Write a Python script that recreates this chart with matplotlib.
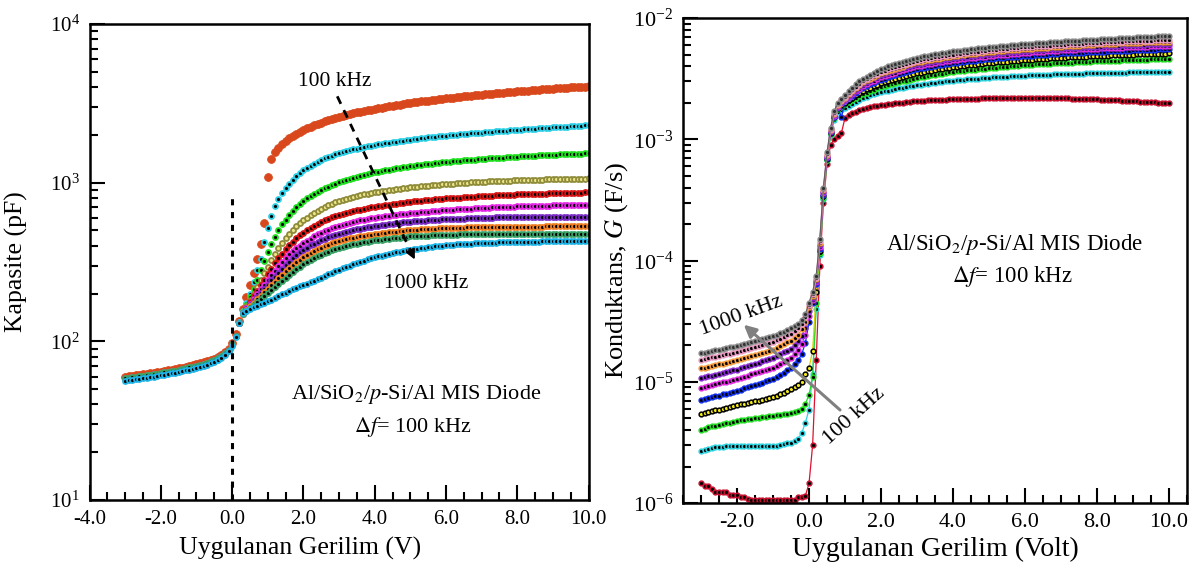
import numpy as np
import matplotlib.pyplot as plt
from matplotlib.ticker import MultipleLocator, LogLocator, LogFormatterMathtext, FuncFormatter, NullFormatter

plt.rcParams['font.family'] = 'serif'
plt.rcParams['font.serif'] = ['Liberation Serif', 'DejaVu Serif']
plt.rcParams['mathtext.fontset'] = 'stix'

# bias sweep of both measurements: -3.0 V ... 10.0 V in 0.1 V steps
voltage = np.round(np.linspace(-3.0, 10.0, 131), 1)

freq_labels = ['100 kHz', '200 kHz', '300 kHz', '400 kHz', '500 kHz',
               '600 kHz', '700 kHz', '800 kHz', '900 kHz', '1000 kHz']

# ---- C-V data (pF) ----
cap_100k = [60.0, 60.4, 60.8, 61.2, 61.6, 62.0, 62.4, 62.9, 63.4, 63.9, 64.4,
            65.0, 65.6, 66.2, 66.8, 67.5, 68.2, 69.0, 69.8, 70.6, 71.5,
            72.5, 73.6, 74.8, 76.2, 77.8, 79.8, 82.3, 85.5, 90.0, 97.0,
            112, 135, 160, 190, 225, 270, 330, 410, 560, 1090,
            1410, 1550, 1660, 1750, 1830, 1900, 1965, 2030, 2090, 2150,
            2200, 2250, 2300, 2345, 2390, 2435, 2480, 2520, 2560, 2600,
            2635, 2670, 2705, 2740, 2770, 2800, 2830, 2860, 2890, 2920,
            2945, 2970, 3000, 3025, 3050, 3080, 3105, 3130, 3155, 3180,
            3200, 3225, 3250, 3270, 3290, 3315, 3335, 3355, 3380, 3400,
            3420, 3440, 3460, 3480, 3495, 3515, 3535, 3555, 3570, 3590,
            3605, 3625, 3640, 3660, 3675, 3690, 3710, 3725, 3745, 3760,
            3775, 3790, 3805, 3820, 3835, 3850, 3865, 3880, 3895, 3910,
            3925, 3940, 3950, 3965, 3980, 3995, 4010, 4020, 4035, 4050]
cap_200k = [58.6, 59.0, 59.4, 59.8, 60.2, 60.6, 61.0, 61.5, 62.0, 62.5, 63.0,
            63.6, 64.2, 64.8, 65.4, 66.1, 66.8, 67.6, 68.4, 69.2, 70.1,
            71.1, 72.2, 73.4, 74.8, 76.4, 78.4, 80.9, 84.1, 88.6, 95.5,
            108, 132, 155, 175, 200, 235, 280, 330, 420, 520,
            620, 710, 790, 860, 925, 985, 1040, 1095, 1145, 1195,
            1235, 1275, 1315, 1355, 1390, 1420, 1450, 1478, 1505, 1530,
            1553, 1575, 1597, 1619, 1640, 1659, 1677, 1695, 1713, 1730,
            1745, 1760, 1774, 1788, 1801, 1814, 1827, 1840, 1855, 1870,
            1882, 1893, 1904, 1915, 1926, 1937, 1948, 1959, 1970, 1980,
            1989, 1998, 2007, 2016, 2025, 2034, 2043, 2052, 2061, 2070,
            2078, 2086, 2094, 2102, 2110, 2118, 2126, 2134, 2142, 2150,
            2158, 2166, 2174, 2182, 2190, 2198, 2206, 2214, 2222, 2230,
            2237, 2244, 2251, 2258, 2265, 2272, 2279, 2286, 2293, 2300]
cap_300k = [58.6, 59.0, 59.4, 59.8, 60.2, 60.6, 61.0, 61.5, 62.0, 62.5, 63.0,
            63.6, 64.2, 64.8, 65.4, 66.1, 66.8, 67.6, 68.4, 69.2, 70.1,
            71.1, 72.2, 73.4, 74.8, 76.4, 78.4, 80.9, 84.1, 88.6, 95.5,
            108, 131, 152, 170, 190, 215, 245, 280, 320, 365,
            410, 455, 500, 545, 585, 625, 662, 698, 732, 765,
            795, 823, 850, 876, 900, 922, 944, 965, 985, 1005,
            1023, 1041, 1058, 1074, 1090, 1105, 1119, 1133, 1147, 1160,
            1172, 1184, 1195, 1206, 1217, 1228, 1239, 1249, 1260, 1270,
            1279, 1287, 1295, 1303, 1311, 1319, 1327, 1335, 1343, 1350,
            1356, 1362, 1368, 1374, 1380, 1386, 1392, 1398, 1404, 1410,
            1415, 1420, 1425, 1430, 1435, 1440, 1445, 1450, 1455, 1460,
            1464, 1468, 1472, 1476, 1480, 1484, 1488, 1492, 1496, 1500,
            1503, 1506, 1509, 1512, 1515, 1518, 1521, 1524, 1527, 1530]
cap_400k = [58.6, 59.0, 59.4, 59.8, 60.2, 60.6, 61.0, 61.5, 62.0, 62.5, 63.0,
            63.6, 64.2, 64.8, 65.4, 66.1, 66.8, 67.6, 68.4, 69.2, 70.1,
            71.1, 72.2, 73.4, 74.8, 76.4, 78.4, 80.9, 84.1, 88.6, 95.5,
            108, 131, 151, 166, 182, 200, 220, 243, 268, 295,
            325, 355, 385, 415, 445, 475, 503, 530, 556, 580,
            602, 624, 645, 665, 685, 702, 719, 735, 750, 765,
            778, 790, 802, 814, 825, 834, 843, 852, 861, 870,
            877, 884, 891, 898, 904, 910, 917, 923, 929, 935,
            940, 945, 950, 954, 958, 962, 967, 971, 976, 980,
            983, 987, 990, 993, 996, 999, 1003, 1006, 1009, 1012,
            1014, 1017, 1019, 1021, 1024, 1026, 1028, 1030, 1033, 1035,
            1037, 1038, 1040, 1041, 1043, 1044, 1046, 1047, 1049, 1050,
            1051, 1052, 1054, 1055, 1056, 1057, 1058, 1059, 1061, 1062]
cap_500k = [58.6, 59.0, 59.4, 59.8, 60.2, 60.6, 61.0, 61.5, 62.0, 62.5, 63.0,
            63.6, 64.2, 64.8, 65.4, 66.1, 66.8, 67.6, 68.4, 69.2, 70.1,
            71.1, 72.2, 73.4, 74.8, 76.4, 78.4, 80.9, 84.1, 88.6, 95.5,
            108, 131, 150, 163, 177, 192, 208, 226, 245, 265,
            287, 310, 333, 357, 380, 403, 425, 446, 466, 485,
            502, 518, 534, 550, 565, 578, 591, 603, 614, 625,
            635, 644, 653, 662, 670, 677, 684, 691, 698, 705,
            711, 716, 721, 726, 731, 737, 742, 747, 752, 757,
            761, 765, 769, 773, 777, 781, 785, 788, 792, 795,
            798, 801, 803, 806, 809, 811, 814, 817, 819, 822,
            824, 826, 828, 830, 832, 834, 836, 838, 840, 842,
            843, 845, 846, 848, 849, 851, 852, 854, 855, 857,
            858, 859, 860, 861, 862, 863, 864, 866, 867, 868]
cap_600k = [58.6, 59.0, 59.4, 59.8, 60.2, 60.6, 61.0, 61.5, 62.0, 62.5, 63.0,
            63.6, 64.2, 64.8, 65.4, 66.1, 66.8, 67.6, 68.4, 69.2, 70.1,
            71.1, 72.2, 73.4, 74.8, 76.4, 78.4, 80.9, 84.1, 88.6, 95.5,
            108, 131, 150, 161, 173, 186, 199, 213, 228, 244,
            261, 279, 297, 316, 335, 353, 370, 386, 401, 415,
            430, 444, 458, 472, 485, 496, 506, 516, 526, 535,
            543, 550, 558, 565, 572, 578, 584, 589, 595, 600,
            605, 609, 613, 617, 621, 626, 630, 634, 638, 642,
            645, 648, 651, 654, 657, 660, 663, 666, 669, 672,
            674, 676, 679, 681, 683, 685, 687, 690, 692, 694,
            695, 697, 698, 700, 701, 702, 704, 705, 707, 708,
            709, 710, 711, 712, 713, 714, 715, 716, 717, 718,
            719, 719, 720, 721, 721, 722, 723, 723, 724, 725]
cap_700k = [58.6, 59.0, 59.4, 59.8, 60.2, 60.6, 61.0, 61.5, 62.0, 62.5, 63.0,
            63.6, 64.2, 64.8, 65.4, 66.1, 66.8, 67.6, 68.4, 69.2, 70.1,
            71.1, 72.2, 73.4, 74.8, 76.4, 78.4, 80.9, 84.1, 88.6, 95.5,
            108, 131, 149, 159, 169, 180, 191, 203, 215, 228,
            242, 256, 271, 286, 301, 317, 333, 348, 363, 377,
            390, 402, 413, 424, 435, 444, 453, 461, 469, 477,
            484, 490, 496, 502, 508, 513, 518, 523, 528, 532,
            536, 540, 544, 548, 551, 554, 558, 561, 564, 567,
            569, 572, 574, 576, 578, 580, 582, 584, 586, 588,
            589, 590, 592, 593, 594, 595, 596, 597, 599, 600,
            601, 601, 602, 603, 603, 604, 604, 605, 605, 606,
            606, 606, 607, 607, 607, 608, 608, 608, 609, 609,
            609, 609, 610, 610, 610, 610, 610, 611, 611, 611]
cap_800k = [58.6, 59.0, 59.4, 59.8, 60.2, 60.6, 61.0, 61.5, 62.0, 62.5, 63.0,
            63.6, 64.2, 64.8, 65.4, 66.1, 66.8, 67.6, 68.4, 69.2, 70.1,
            71.1, 72.2, 73.4, 74.8, 76.4, 78.4, 80.9, 84.1, 88.6, 95.5,
            108, 131, 149, 157, 166, 175, 184, 194, 204, 215,
            226, 238, 250, 263, 276, 289, 302, 315, 327, 339,
            350, 361, 371, 381, 390, 398, 406, 414, 421, 428,
            434, 440, 445, 450, 455, 459, 463, 467, 471, 475,
            478, 481, 484, 487, 490, 492, 495, 498, 500, 503,
            505, 506, 508, 509, 511, 512, 514, 515, 517, 518,
            519, 519, 520, 521, 521, 522, 523, 523, 524, 525,
            525, 525, 526, 526, 526, 527, 527, 527, 528, 528,
            528, 528, 529, 529, 529, 529, 529, 530, 530, 530,
            530, 530, 530, 530, 530, 531, 531, 531, 531, 531]
cap_900k = [58.6, 59.0, 59.4, 59.8, 60.2, 60.6, 61.0, 61.5, 62.0, 62.5, 63.0,
            63.6, 64.2, 64.8, 65.4, 66.1, 66.8, 67.6, 68.4, 69.2, 70.1,
            71.1, 72.2, 73.4, 74.8, 76.4, 78.4, 80.9, 84.1, 88.6, 95.5,
            108, 131, 149, 156, 163, 170, 177, 185, 193, 202,
            211, 221, 231, 241, 252, 263, 274, 285, 296, 306,
            316, 325, 334, 343, 352, 360, 367, 374, 381, 388,
            393, 398, 403, 408, 413, 417, 421, 425, 429, 432,
            435, 438, 441, 444, 446, 449, 451, 454, 456, 458,
            459, 461, 462, 463, 464, 465, 466, 467, 469, 470,
            470, 471, 471, 472, 472, 473, 473, 474, 474, 475,
            475, 475, 475, 476, 476, 476, 476, 477, 477, 477,
            477, 477, 477, 477, 478, 478, 478, 478, 478, 478,
            478, 478, 478, 478, 478, 478, 478, 478, 478, 478]
cap_1000k = [56.5, 56.9, 57.3, 57.7, 58.1, 58.5, 58.9, 59.4, 59.9, 60.4, 60.9,
             61.5, 62.1, 62.7, 63.3, 64.0, 64.7, 65.5, 66.3, 67.1, 68.0,
             69.0, 70.1, 71.3, 72.7, 74.3, 76.3, 78.8, 82.0, 86.5, 93.0,
             107, 130, 150, 156, 160, 164, 167, 171, 175, 179,
             183, 188, 193, 198, 203, 208, 213, 218, 222, 225,
             230, 236, 241, 247, 252, 258, 264, 270, 276, 282,
             288, 294, 300, 306, 312, 317, 323, 328, 333, 338,
             343, 347, 352, 356, 360, 364, 368, 371, 375, 378,
             381, 384, 387, 389, 392, 394, 396, 398, 401, 403,
             405, 406, 408, 409, 410, 411, 412, 414, 415, 416,
             417, 418, 418, 419, 420, 420, 421, 422, 422, 423,
             423, 424, 424, 425, 425, 425, 426, 426, 427, 427,
             427, 428, 428, 428, 429, 429, 429, 429, 430, 430]

# ---- G-V data, in units of 1e-6 F/s ----
g_100k = [1.45, 1.38, 1.38, 1.30, 1.24, 1.24, 1.24, 1.24, 1.17, 1.17, 1.17,
          1.13, 1.13, 1.08, 1.05, 1.05, 1.05, 1.05, 1.05, 1.05, 1.05,
          1.05, 1.05, 1.05, 1.05, 1.05, 1.05, 1.13, 1.13, 1.15, 1.45,
          3.0, 15, 90, 300, 620, 900, 1000, 1060, 1130, 1500,
          1580, 1640, 1690, 1740, 1780, 1810, 1840, 1865, 1895, 1920,
          1935, 1950, 1965, 1980, 1995, 2010, 2025, 2040, 2055, 2070,
          2077, 2084, 2091, 2098, 2105, 2112, 2119, 2126, 2133, 2140,
          2144, 2148, 2152, 2156, 2160, 2164, 2168, 2172, 2176, 2180,
          2182, 2184, 2186, 2188, 2190, 2192, 2194, 2196, 2198, 2200,
          2199, 2198, 2196, 2194, 2192, 2190, 2188, 2185, 2183, 2180,
          2176, 2172, 2167, 2162, 2157, 2152, 2147, 2142, 2136, 2130,
          2124, 2117, 2110, 2103, 2096, 2089, 2082, 2075, 2068, 2060,
          2052, 2044, 2036, 2028, 2020, 2012, 2004, 1996, 1988, 1980]
g_200k = [2.70, 2.75, 2.80, 2.85, 2.88, 2.90, 2.92, 2.93, 2.94, 2.95, 2.95,
          2.95, 2.95, 2.95, 2.95, 2.95, 2.95, 2.95, 2.95, 2.96, 2.97,
          2.98, 3.00, 3.05, 3.10, 3.15, 3.25, 3.40, 3.80, 4.60, 5.90,
          11.5, 40, 110, 320, 670, 1080, 1450, 1680, 1750, 1800,
          1880, 1960, 2040, 2120, 2200, 2250, 2300, 2350, 2400, 2450,
          2485, 2520, 2555, 2590, 2625, 2660, 2695, 2730, 2765, 2800,
          2825, 2850, 2875, 2900, 2925, 2950, 2975, 3000, 3025, 3050,
          3067, 3084, 3101, 3118, 3135, 3152, 3169, 3186, 3203, 3220,
          3233, 3246, 3259, 3272, 3285, 3298, 3311, 3324, 3337, 3350,
          3359, 3368, 3377, 3386, 3395, 3404, 3413, 3422, 3431, 3440,
          3447, 3454, 3461, 3468, 3475, 3482, 3489, 3496, 3503, 3510,
          3515, 3520, 3525, 3530, 3535, 3540, 3545, 3550, 3555, 3560,
          3564, 3568, 3572, 3576, 3580, 3584, 3588, 3592, 3596, 3600]
g_300k = [4.0, 4.1, 4.2, 4.3, 4.35, 4.4, 4.5, 4.55, 4.6, 4.7, 4.75,
          4.8, 4.85, 4.9, 4.95, 5.0, 5.05, 5.1, 5.15, 5.2, 5.25,
          5.3, 5.35, 5.4, 5.45, 5.5, 5.6, 5.75, 6.0, 6.6, 7.8,
          11, 45, 115, 330, 680, 1100, 1500, 1760, 1860, 1950,
          2030, 2110, 2190, 2270, 2350, 2420, 2490, 2560, 2630, 2700,
          2750, 2800, 2850, 2900, 2950, 3000, 3050, 3100, 3150, 3200,
          3240, 3280, 3320, 3360, 3400, 3440, 3480, 3520, 3560, 3600,
          3625, 3650, 3675, 3700, 3725, 3750, 3775, 3800, 3825, 3850,
          3875, 3900, 3925, 3950, 3975, 4000, 4025, 4050, 4075, 4100,
          4115, 4130, 4145, 4160, 4175, 4190, 4205, 4220, 4235, 4250,
          4265, 4280, 4295, 4310, 4325, 4340, 4355, 4370, 4385, 4400,
          4410, 4420, 4430, 4440, 4450, 4460, 4470, 4480, 4490, 4500,
          4510, 4520, 4530, 4540, 4550, 4560, 4570, 4580, 4590, 4600]
g_400k = [5.4, 5.5, 5.6, 5.7, 5.8, 5.9, 6.0, 6.1, 6.2, 6.3, 6.4,
          6.5, 6.6, 6.7, 6.8, 6.9, 7.0, 7.1, 7.2, 7.3, 7.5,
          7.7, 7.9, 8.1, 8.4, 8.7, 9.0, 9.4, 10.0, 11.5, 13.0,
          18, 55, 120, 340, 690, 1120, 1520, 1800, 1900, 2000,
          2100, 2200, 2300, 2400, 2500, 2580, 2660, 2740, 2820, 2900,
          2960, 3020, 3080, 3140, 3200, 3260, 3320, 3380, 3440, 3500,
          3545, 3590, 3635, 3680, 3725, 3770, 3815, 3860, 3905, 3950,
          3980, 4010, 4040, 4070, 4100, 4130, 4160, 4190, 4220, 4250,
          4275, 4300, 4325, 4350, 4375, 4400, 4425, 4450, 4475, 4500,
          4520, 4540, 4560, 4580, 4600, 4620, 4640, 4660, 4680, 4700,
          4715, 4730, 4745, 4760, 4775, 4790, 4805, 4820, 4835, 4850,
          4865, 4880, 4895, 4910, 4925, 4940, 4955, 4970, 4985, 5000,
          5010, 5020, 5030, 5040, 5050, 5060, 5070, 5080, 5090, 5100]
g_500k = [7.1, 7.2, 7.4, 7.5, 7.6, 7.7, 7.9, 8.0, 8.1, 8.3, 8.4,
          8.6, 8.8, 9.0, 9.2, 9.4, 9.6, 9.8, 10.1, 10.3, 10.5,
          10.9, 11.4, 11.9, 12.4, 12.9, 13.9, 15.0, 17.0, 21.0, 31.0,
          45, 64, 125, 350, 700, 1140, 1540, 1830, 1520, 2050,
          2170, 2290, 2410, 2530, 2650, 2740, 2830, 2920, 3010, 3100,
          3170, 3240, 3310, 3380, 3450, 3520, 3590, 3660, 3730, 3800,
          3845, 3890, 3935, 3980, 4025, 4070, 4115, 4160, 4205, 4250,
          4285, 4320, 4355, 4390, 4425, 4460, 4495, 4530, 4565, 4600,
          4625, 4650, 4675, 4700, 4725, 4750, 4775, 4800, 4825, 4850,
          4875, 4900, 4925, 4950, 4975, 5000, 5025, 5050, 5075, 5100,
          5115, 5130, 5145, 5160, 5175, 5190, 5205, 5220, 5235, 5250,
          5265, 5280, 5295, 5310, 5325, 5340, 5355, 5370, 5385, 5400,
          5415, 5430, 5445, 5460, 5475, 5490, 5505, 5520, 5535, 5550]
g_600k = [8.9, 9.0, 9.2, 9.4, 9.5, 9.7, 9.9, 10.0, 10.2, 10.3, 10.5,
          10.7, 11.0, 11.2, 11.5, 11.7, 12.0, 12.2, 12.5, 12.7, 13.0,
          13.5, 14.1, 14.6, 15.2, 15.8, 16.9, 18.2, 20.5, 24.5, 35.0,
          47, 66, 130, 360, 715, 1160, 1570, 1860, 1980, 2100,
          2230, 2360, 2490, 2620, 2750, 2850, 2950, 3050, 3150, 3250,
          3325, 3400, 3475, 3550, 3625, 3700, 3775, 3850, 3925, 4000,
          4050, 4100, 4150, 4200, 4250, 4300, 4350, 4400, 4450, 4500,
          4535, 4570, 4605, 4640, 4675, 4710, 4745, 4780, 4815, 4850,
          4880, 4910, 4940, 4970, 5000, 5030, 5060, 5090, 5120, 5150,
          5175, 5200, 5225, 5250, 5275, 5300, 5325, 5350, 5375, 5400,
          5420, 5440, 5460, 5480, 5500, 5520, 5540, 5560, 5580, 5600,
          5615, 5630, 5645, 5660, 5675, 5690, 5705, 5720, 5735, 5750,
          5765, 5780, 5795, 5810, 5825, 5840, 5855, 5870, 5885, 5900]
g_700k = [10.7, 10.9, 11.1, 11.2, 11.4, 11.6, 11.8, 12.0, 12.2, 12.4, 12.6,
          12.9, 13.2, 13.5, 13.8, 14.1, 14.4, 14.7, 15.0, 15.3, 15.6,
          16.2, 16.8, 17.5, 18.1, 18.8, 20.0, 21.5, 24.0, 28.0, 38.0,
          49, 68, 135, 370, 730, 1180, 1600, 1890, 2020, 2150,
          2290, 2430, 2570, 2710, 2850, 2960, 3070, 3180, 3290, 3400,
          3475, 3550, 3625, 3700, 3775, 3850, 3925, 4000, 4075, 4150,
          4200, 4250, 4300, 4350, 4400, 4450, 4500, 4550, 4600, 4650,
          4690, 4730, 4770, 4810, 4850, 4890, 4930, 4970, 5010, 5050,
          5080, 5110, 5140, 5170, 5200, 5230, 5260, 5290, 5320, 5350,
          5375, 5400, 5425, 5450, 5475, 5500, 5525, 5550, 5575, 5600,
          5620, 5640, 5660, 5680, 5700, 5720, 5740, 5760, 5780, 5800,
          5820, 5840, 5860, 5880, 5900, 5920, 5940, 5960, 5980, 6000,
          6015, 6030, 6045, 6060, 6075, 6090, 6105, 6120, 6135, 6150]
g_800k = [12.9, 13.1, 13.3, 13.5, 13.7, 13.9, 14.1, 14.3, 14.6, 14.8, 15.0,
          15.3, 15.7, 16.0, 16.4, 16.7, 17.0, 17.4, 17.7, 18.1, 18.4,
          19.1, 19.8, 20.4, 21.1, 21.8, 23.0, 24.5, 27.0, 31.0, 41.0,
          51, 70, 140, 380, 745, 1200, 1630, 1920, 2060, 2200,
          2350, 2500, 2650, 2800, 2950, 3060, 3170, 3280, 3390, 3500,
          3580, 3660, 3740, 3820, 3900, 3980, 4060, 4140, 4220, 4300,
          4355, 4410, 4465, 4520, 4575, 4630, 4685, 4740, 4795, 4850,
          4890, 4930, 4970, 5010, 5050, 5090, 5130, 5170, 5210, 5250,
          5280, 5310, 5340, 5370, 5400, 5430, 5460, 5490, 5520, 5550,
          5575, 5600, 5625, 5650, 5675, 5700, 5725, 5750, 5775, 5800,
          5825, 5850, 5875, 5900, 5925, 5950, 5975, 6000, 6025, 6050,
          6070, 6090, 6110, 6130, 6150, 6170, 6190, 6210, 6230, 6250,
          6265, 6280, 6295, 6310, 6325, 6340, 6355, 6370, 6385, 6400]
g_900k = [15.2, 15.4, 15.6, 15.9, 16.1, 16.4, 16.6, 16.9, 17.1, 17.4, 17.6,
          18.0, 18.3, 18.7, 19.0, 19.4, 19.8, 20.1, 20.5, 20.9, 21.3,
          22.0, 22.7, 23.4, 24.1, 24.8, 26.0, 27.5, 30.0, 34.0, 43.0,
          53, 72, 145, 390, 760, 1220, 1660, 1950, 2100, 2250,
          2400, 2550, 2700, 2850, 3000, 3120, 3240, 3360, 3480, 3600,
          3690, 3780, 3870, 3960, 4040, 4120, 4200, 4280, 4370, 4450,
          4510, 4570, 4625, 4680, 4735, 4790, 4845, 4900, 4950, 5000,
          5040, 5080, 5120, 5160, 5200, 5240, 5280, 5320, 5360, 5400,
          5435, 5470, 5505, 5540, 5575, 5610, 5645, 5680, 5715, 5750,
          5775, 5800, 5825, 5850, 5875, 5900, 5925, 5950, 5975, 6000,
          6025, 6050, 6075, 6100, 6125, 6150, 6175, 6200, 6225, 6250,
          6270, 6290, 6310, 6330, 6350, 6370, 6390, 6410, 6430, 6450,
          6465, 6480, 6495, 6510, 6525, 6540, 6555, 6570, 6585, 6600]
g_1000k = [17.2, 17.4, 17.7, 17.9, 18.2, 18.4, 18.7, 18.9, 19.2, 19.5, 19.8,
           20.2, 20.6, 21.0, 21.4, 21.8, 22.2, 22.6, 23.0, 23.4, 23.8,
           24.5, 25.2, 25.9, 26.7, 27.5, 28.7, 30.0, 32.5, 36.0, 45.0,
           55, 75, 150, 400, 780, 1250, 1700, 2000, 2150, 2300,
           2490, 2670, 2840, 3000, 3150, 3290, 3420, 3550, 3680, 3800,
           3900, 4000, 4100, 4190, 4280, 4370, 4450, 4530, 4620, 4700,
           4765, 4830, 4895, 4960, 5020, 5080, 5140, 5195, 5250, 5300,
           5345, 5390, 5435, 5480, 5525, 5570, 5615, 5660, 5705, 5750,
           5785, 5820, 5855, 5890, 5925, 5960, 5995, 6030, 6065, 6100,
           6130, 6160, 6190, 6220, 6250, 6280, 6310, 6340, 6370, 6400,
           6425, 6450, 6475, 6500, 6525, 6550, 6575, 6600, 6625, 6650,
           6675, 6700, 6725, 6750, 6775, 6800, 6825, 6850, 6875, 6900,
           6920, 6940, 6960, 6980, 7000, 7020, 7040, 7060, 7080, 7100]

cap_series = [cap_100k, cap_200k, cap_300k, cap_400k, cap_500k,
              cap_600k, cap_700k, cap_800k, cap_900k, cap_1000k]
g_series = [g_100k, g_200k, g_300k, g_400k, g_500k,
            g_600k, g_700k, g_800k, g_900k, g_1000k]

# colours: (edge, face)
cap_colors = [('#D9481C', '#D9481C'), ('#2CCFE6', 'black'), ('#1FE01F', 'black'),
              ('#8E8B3A', '#EDE58A'), ('#D81414', 'black'), ('#E628E6', 'black'),
              ('#7B2CC4', 'black'), ('#EE7F22', 'black'), ('#38A267', 'black'),
              ('#1EB4E6', 'black')]
g_colors = [('#C8102E', 'black'), ('#2ED3E0', 'black'), ('#22DD22', 'black'),
            ('black', '#F2EA1C'), ('#1030EE', 'black'), ('#E02CE0', 'black'),
            ('#8A2BD0', 'black'), ('#F39A3C', 'black'), ('#E898C0', 'black'),
            ('#8A8A8A', '#303030')]
g_line_colors = ['#E0102E', '#2ED3E0', '#22DD22', '#D8D000', '#1030EE',
                 '#E02CE0', '#8A2BD0', '#F39A3C', '#E898C0', '#606060']

fig = plt.figure(figsize=(11.97, 5.72), dpi=100)
ax1 = fig.add_axes([0.0748, 0.1259, 0.4169, 0.8322])
ax2 = fig.add_axes([0.5706, 0.1206, 0.4211, 0.8479])

# ---- left: capacitance ----
for i, (vals, (ec, fc)) in enumerate(zip(cap_series, cap_colors)):
    if i == 0:
        ax1.plot(voltage, vals, ls='none', marker='o', ms=5.6, mfc=fc, mec=ec, mew=0.6)
    else:
        ax1.plot(voltage, vals, ls='none', marker='o', ms=3.6, mfc=fc, mec=ec, mew=1.3)

ax1.plot([0, 0], [10, 850], color='black', lw=2.2, ls=(0, (2.0, 2.2)))
ax1.plot([2.95, 5.0], [3500, 374], color='black', lw=2.0, ls=(0, (3.0, 2.5)))
ax1.annotate('', xy=(5.16, 316), xytext=(5.0, 374),
             arrowprops=dict(arrowstyle='-|>', color='black', lw=1.5, mutation_scale=14))
ax1.text(2.89, 4360, '100 kHz', ha='center', va='center', fontsize=15.5)
ax1.text(5.44, 230, '1000 kHz', ha='center', va='center', fontsize=15.5)
ax1.text(5.16, 46.3, 'Al/SiO$_2$/$p$-Si/Al MIS Diode', ha='center', va='center', fontsize=16)
ax1.text(5.08, 29, r'$\Delta f$= 100 kHz', ha='center', va='center', fontsize=16)

ax1.set_yscale('log')
ax1.set_xlim(-4, 10)
ax1.set_ylim(10, 1e4)
ax1.xaxis.set_major_locator(MultipleLocator(2))
ax1.xaxis.set_minor_locator(MultipleLocator(0.5))
ax1.xaxis.set_major_formatter(FuncFormatter(lambda v, p: f'{v:.1f}'))
ax1.set_xlabel('Uygulanan Gerilim (V)', fontsize=18.5)
ax1.xaxis.set_label_coords(0.422, -0.078)
ax1.set_ylabel('Kapasite (pF)', fontsize=18.5)
ax1.yaxis.set_label_coords(-0.123, 0.5)

# ---- right: conductance ----
for vals, (ec, fc), lc in zip(g_series, g_colors, g_line_colors):
    ax2.plot(voltage, np.array(vals) * 1e-6, color=lc, lw=0.9, marker='o', ms=3.4,
             mfc=fc, mec=ec, mew=1.1)

ax2.annotate('', xy=(-1.87, 3.06e-5), xytext=(0.92, 5.65e-6),
             arrowprops=dict(arrowstyle='-|>', color='#808080', lw=2.2, mutation_scale=18))
ax2.text(-1.89, 3.49e-5, '1000 kHz', rotation=20, ha='center', va='center', fontsize=16)
ax2.text(1.25, 5.24e-6, '100 kHz', rotation=42, ha='center', va='center', fontsize=16)
ax2.text(5.72, 1.35e-4, 'Al/SiO$_2$/$p$-Si/Al MIS Diode', ha='center', va='center', fontsize=16.5)
ax2.text(5.64, 7.4e-5, r'$\Delta f$= 100 kHz', ha='center', va='center', fontsize=16.5)

ax2.set_yscale('log')
ax2.set_xlim(-3.5, 10.5)
ax2.set_ylim(1e-6, 1e-2)
ax2.xaxis.set_major_locator(MultipleLocator(2))
ax2.xaxis.set_minor_locator(MultipleLocator(0.5))
ax2.xaxis.set_major_formatter(FuncFormatter(lambda v, p: f'{v:.1f}'))
ax2.set_xlabel('Uygulanan Gerilim (Volt)', fontsize=20, labelpad=4)
ax2.set_ylabel('Konduktans, $G$ (F/s)', fontsize=19)
ax2.yaxis.set_label_coords(-0.105, 0.48)

for ax, lsize in ((ax1, 15), (ax2, 16)):
    ax.yaxis.set_major_locator(LogLocator(base=10))
    ax.yaxis.set_minor_locator(LogLocator(base=10, subs=np.arange(2, 10)))
    ax.yaxis.set_major_formatter(LogFormatterMathtext())
    ax.yaxis.set_minor_formatter(NullFormatter())
    ax.tick_params(which='both', direction='in', top=False, right=False, width=1.5)
    ax.tick_params(which='major', length=11, labelsize=lsize, pad=7)
    ax.tick_params(which='minor', length=6)
    for s in ax.spines.values():
        s.set_linewidth(1.8)

fig.savefig('out.png', dpi=100)
